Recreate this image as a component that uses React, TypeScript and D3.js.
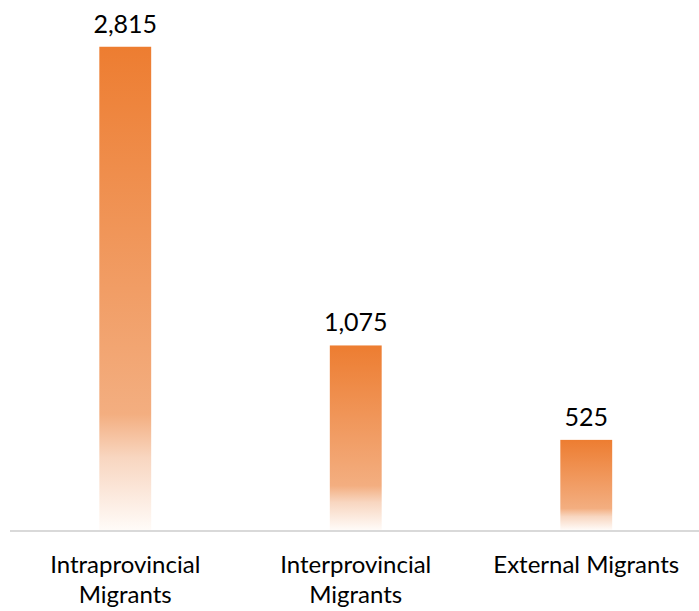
import React from "react";
import * as d3 from "d3";

const categories: string[][] = [
  ["Intraprovincial", "Migrants"],
  ["Interprovincial", "Migrants"],
  ["External Migrants"],
];
const values: number[] = [2815, 1075, 525];

const W = 699;
const H = 611;
const baseY = 530;

export default function App() {
  const x = d3
    .scaleBand<number>()
    .domain(d3.range(values.length))
    .range([10, 701.5])
    .paddingInner(0.775)
    .paddingOuter(0.3875);
  const y = d3.scaleLinear().domain([0, 3000]).range([baseY, 15]);
  const fmt = d3.format(",");
  const font = "Lato, 'Open Sans', sans-serif";

  return (
    <svg
      width={W}
      height={H}
      style={{ position: "absolute", left: 0, top: 0, background: "#fff" }}
    >
      <defs>
        <linearGradient id="barGrad" x1="0" y1="0" x2="0" y2="1">
          <stop offset="0" stopColor="#ED7D31" />
          <stop offset="0.5" stopColor="#F19D65" />
          <stop offset="0.76" stopColor="#F3AE80" />
          <stop offset="0.85" stopColor="#F8D6C0" />
          <stop offset="1" stopColor="#FFFBF8" />
        </linearGradient>
      </defs>
      {values.map((v, i) => (
        <rect
          key={"b" + i}
          x={x(i)}
          y={y(v)}
          width={x.bandwidth()}
          height={baseY - y(v)}
          fill="url(#barGrad)"
        />
      ))}
      <line x1={10} x2={W} y1={baseY + 1} y2={baseY + 1} stroke="#D9D9D9" strokeWidth={2} />
      {values.map((v, i) => (
        <text
          key={"v" + i}
          x={(x(i) as number) + x.bandwidth() / 2}
          y={y(v) - 14}
          textAnchor="middle"
          fontFamily={font}
          fontSize={25}
          fill="#000"
        >
          {fmt(v)}
        </text>
      ))}
      {categories.map((lines, i) => (
        <text
          key={"c" + i}
          x={(x(i) as number) + x.bandwidth() / 2}
          y={573}
          textAnchor="middle"
          fontFamily={font}
          fontSize={24}
          fill="#000"
        >
          {lines.map((l, j) => (
            <tspan key={j} x={(x(i) as number) + x.bandwidth() / 2} dy={j === 0 ? 0 : 30}>
              {l}
            </tspan>
          ))}
        </text>
      ))}
    </svg>
  );
}
